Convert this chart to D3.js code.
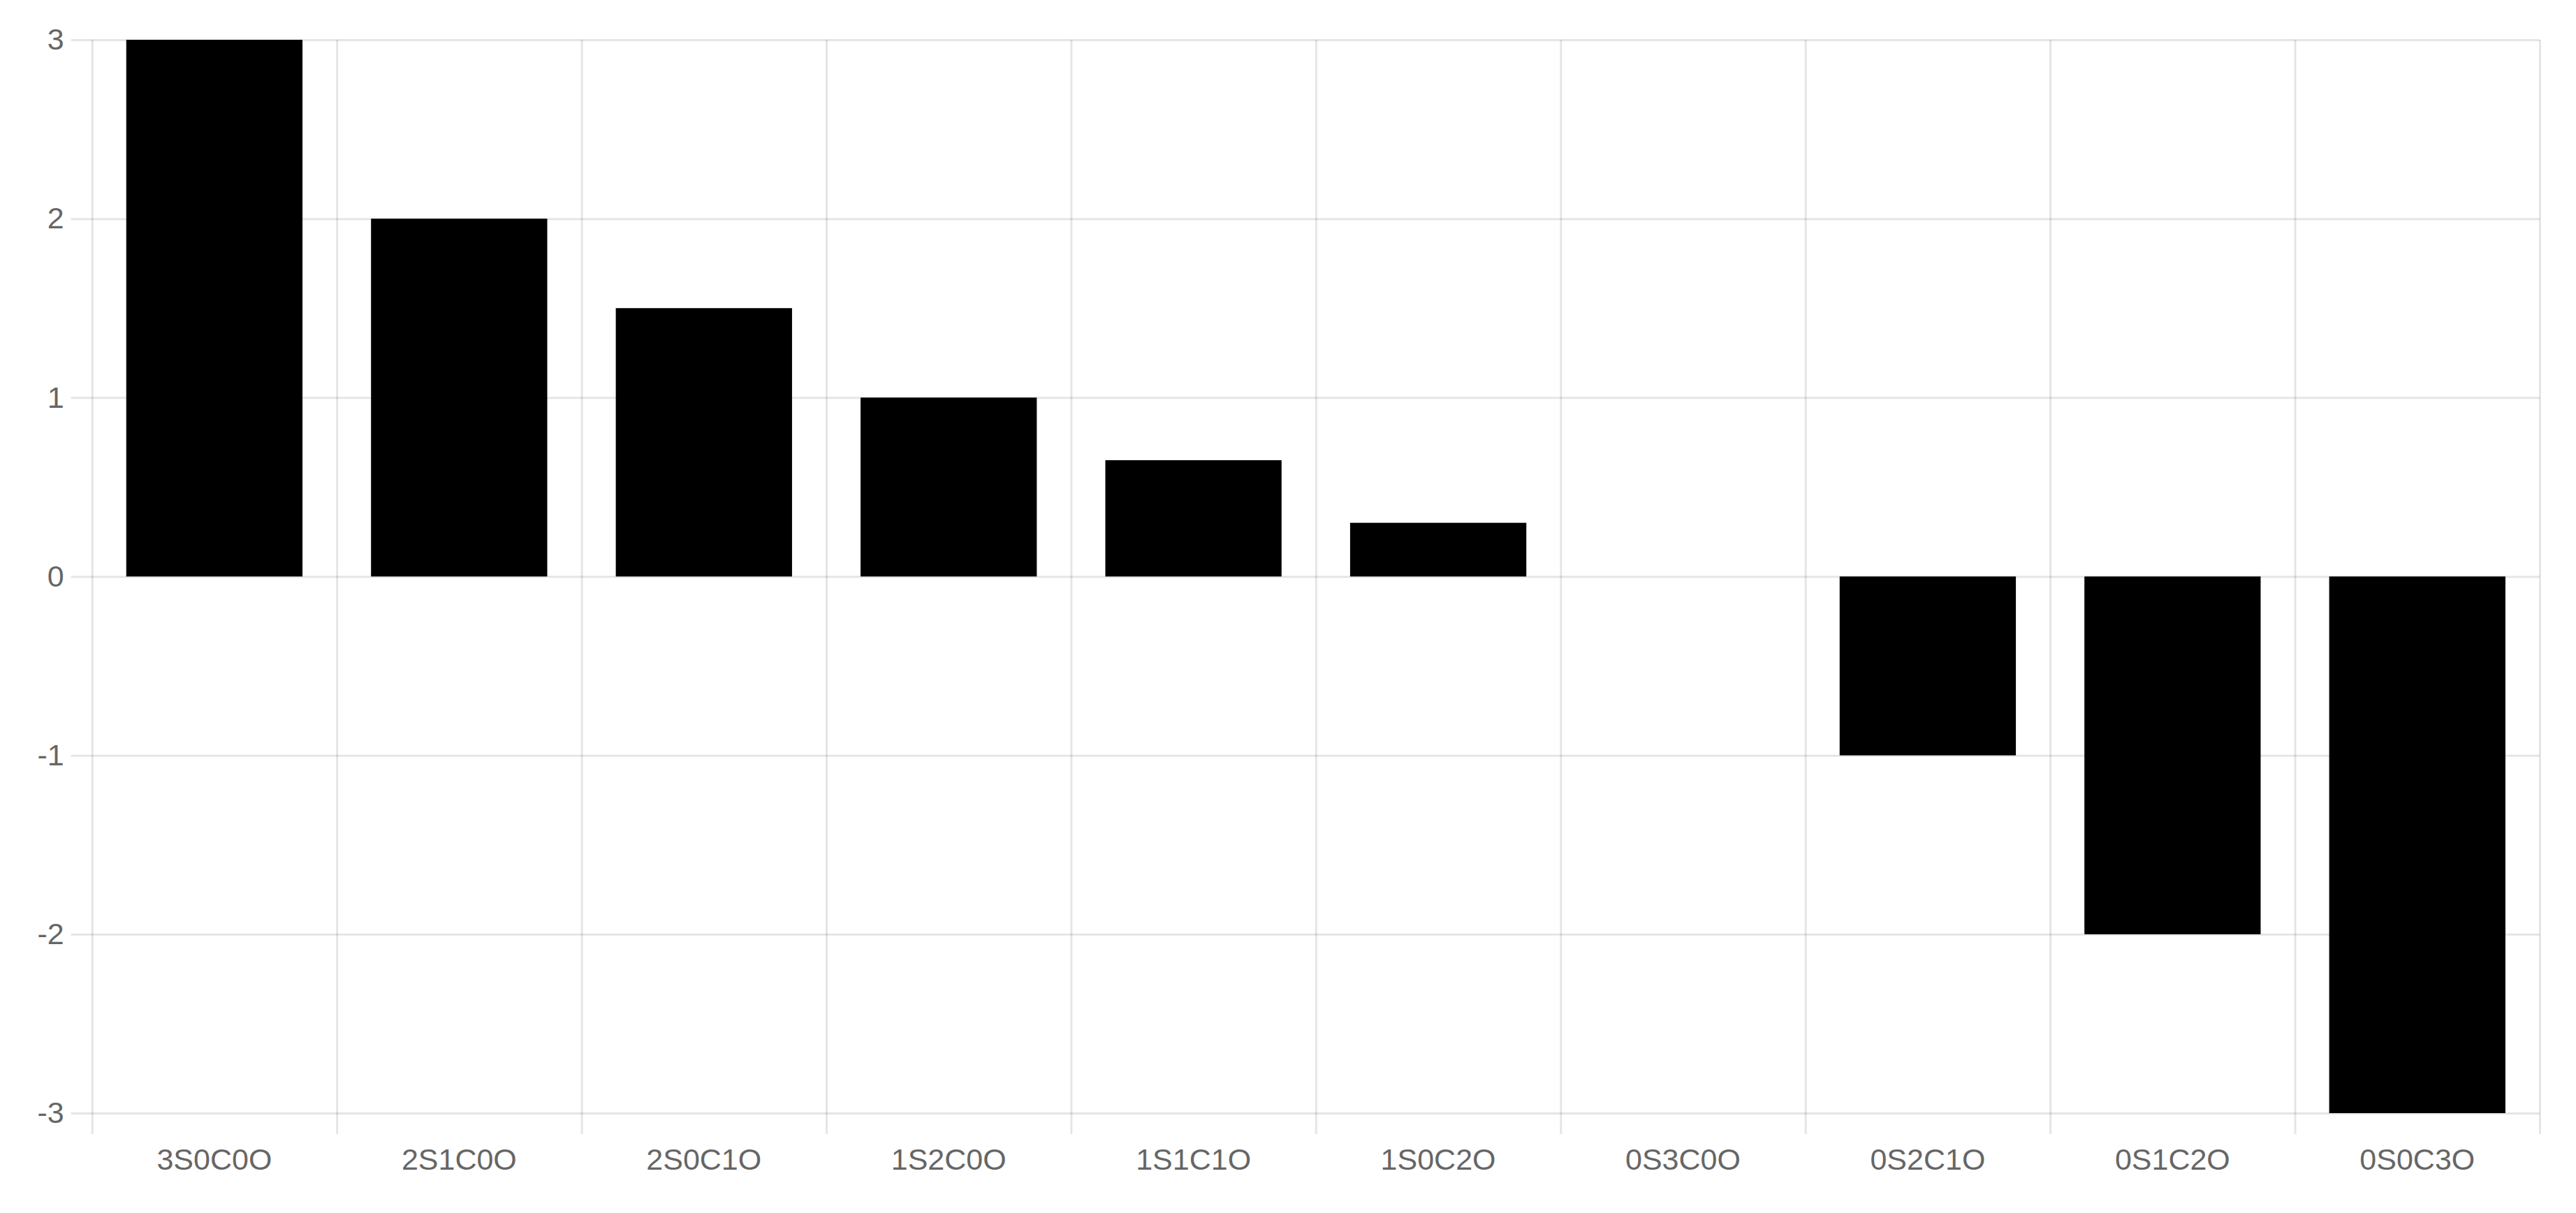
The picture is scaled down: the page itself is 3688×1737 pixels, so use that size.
<!DOCTYPE html>
<html>
<head>
<meta charset="utf-8">
<script src="https://cdn.jsdelivr.net/npm/d3@7"></script>
<style>
    body { margin: 0; background: #fff; }
    svg text { font-family: "Helvetica Neue", Helvetica, "Liberation Sans", Arial, sans-serif; fill: #666; }
</style>
</head>
<body>
<div id="chart"></div>
<script>
// Data
var categories = ["3S0C0O", "2S1C0O", "2S0C1O", "1S2C0O", "1S1C1O", "1S0C2O", "0S3C0O", "0S2C1O", "0S1C2O", "0S0C3O"];
var values = [3, 2, 1.5, 1, 0.65, 0.3, 0, -1, -2, -3];
var yTicks = [-3, -2, -1, 0, 1, 2, 3];

var W = 3688, H = 1737;
var margin = {top: 57, right: 52, bottom: 143, left: 131.7};
var tickLen = 30;
var gridColor = "rgba(0,0,0,0.1)";

var svg = d3.select("#chart")
    .append("svg")
    .attr("width", W)
    .attr("height", H);

var x0 = margin.left, x1 = W - margin.right;
var yTop = margin.top, yBot = H - margin.bottom;

// scales
var x = d3.scaleBand()
    .domain(categories)
    .range([x0, x1])
    .paddingInner(0.28)
    .paddingOuter(0.14);

var xGrid = d3.scaleLinear()
    .domain([0, categories.length])
    .range([x0, x1]);

var y = d3.scaleLinear()
    .domain([-3, 3])
    .range([yBot, yTop]);

// horizontal grid + y labels (ticks stick out left of the plot)
var gy = svg.append("g")
    .attr("transform", "translate(" + x1 + ",0)")
    .call(d3.axisLeft(y)
        .tickValues(yTicks)
        .tickFormat(function(d) { return String(d); })
        .tickSize(x1 - x0 + tickLen)
        .tickPadding(10));
gy.select(".domain").remove();
gy.selectAll("line").attr("stroke", gridColor).attr("stroke-width", 3);
gy.selectAll("text").style("font-size", "43px");

// vertical grid (category boundaries)
var gx = svg.append("g")
    .attr("transform", "translate(0," + yTop + ")")
    .call(d3.axisBottom(xGrid)
        .tickValues(d3.range(categories.length + 1))
        .tickFormat("")
        .tickSize(yBot - yTop + tickLen));
gx.select(".domain").remove();
gx.selectAll("line").attr("stroke", gridColor).attr("stroke-width", 3);

// x labels
var gl = svg.append("g")
    .attr("transform", "translate(0," + yBot + ")")
    .call(d3.axisBottom(x).tickSize(0).tickPadding(50));
gl.select(".domain").remove();
gl.selectAll("text").style("font-size", "43px");

// bars
svg.append("g")
    .selectAll("rect")
    .data(values)
    .enter()
    .append("rect")
    .attr("x", function(d, i) { return x(categories[i]); })
    .attr("y", function(d) { return y(Math.max(0, d)); })
    .attr("width", x.bandwidth())
    .attr("height", function(d) { return Math.abs(y(d) - y(0)); })
    .attr("fill", "#000");
</script>
</body>
</html>
